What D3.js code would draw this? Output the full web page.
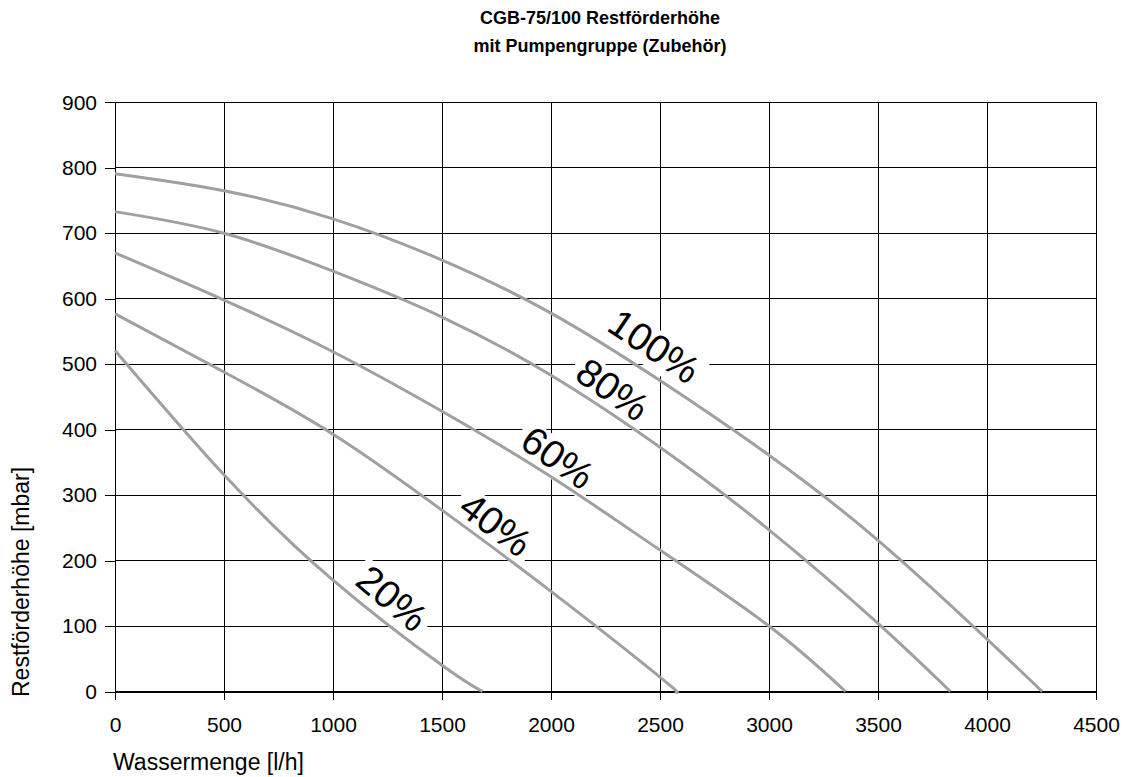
<!DOCTYPE html>
<html>
<head>
<meta charset="utf-8">
<script src="https://cdn.jsdelivr.net/npm/d3@7"></script>
<style>
  html, body { margin: 0; padding: 0; background: #fff; }
  svg { display: block; font-family: "Liberation Sans", Arial, sans-serif; }
</style>
</head>
<body>
<svg id="chart" width="1136" height="777"></svg>
<script>
// ---- Data ----
const titleLines = ["CGB-75/100 Restförderhöhe", "mit Pumpengruppe (Zubehör)"];
const xLabel = "Wassermenge [l/h]";
const yLabel = "Restförderhöhe [mbar]";
const xTicks = [0, 500, 1000, 1500, 2000, 2500, 3000, 3500, 4000, 4500];
const yTicks = [0, 100, 200, 300, 400, 500, 600, 700, 800, 900];

const seriesNames = ["100%", "80%", "60%", "40%", "20%"];
const flow100 = [0, 500, 1000, 1500, 2000, 2500, 3000, 3500, 4000, 4253];
const head100 = [791, 765, 722, 659, 578, 475, 361, 231, 80, 0];
const flow80 = [0, 500, 1000, 1500, 2000, 2500, 3000, 3500, 3832];
const head80 = [733, 700, 642, 572, 483, 373, 247, 104, 0];
const flow60 = [0, 500, 1000, 1500, 2000, 2500, 3000, 3351];
const head60 = [670, 598, 519, 428, 328, 216, 100, 0];
const flow40 = [0, 500, 1000, 1500, 2000, 2500, 2569];
const head40 = [577, 488, 393, 277, 153, 22, 0];
const flow20 = [0, 500, 1000, 1500, 1686];
const head20 = [521, 331, 170, 40, 0];

// label anchor (data coords) and rotation angle
const labelFlow  = [2475, 2284, 2032, 1748, 1273];
const labelHead  = [528, 462, 358, 256, 143];
const labelAngle = [34, 35, 35, 37, 40];

// ---- Build ----
const series = [
  {name: seriesNames[0], x: flow100, y: head100},
  {name: seriesNames[1], x: flow80,  y: head80},
  {name: seriesNames[2], x: flow60,  y: head60},
  {name: seriesNames[3], x: flow40,  y: head40},
  {name: seriesNames[4], x: flow20,  y: head20}
].map(s => ({name: s.name, pts: s.x.map((v, i) => [v, s.y[i]])}));

const svg = d3.select("#chart");
const plotLeft = 115, plotRight = 1096, plotTop = 102.3, plotBottom = 691.5;

const x = d3.scaleLinear().domain([0, 4500]).range([plotLeft, plotRight]);
const y = d3.scaleLinear().domain([0, 900]).range([plotBottom, plotTop]);

// Title
svg.append("g").selectAll("text").data(titleLines).join("text")
  .attr("x", 600).attr("y", (d, i) => 24 + i * 28)
  .attr("text-anchor", "middle")
  .attr("font-size", 18).attr("font-weight", "bold")
  .text(d => d);

// Grid
const grid = svg.append("g").attr("stroke", "#000").attr("stroke-width", 1).attr("shape-rendering", "crispEdges");
grid.selectAll(".vg").data(xTicks).join("line")
  .attr("x1", d => x(d)).attr("x2", d => x(d))
  .attr("y1", y(0)).attr("y2", y(900));
grid.selectAll(".hg").data(yTicks).join("line")
  .attr("x1", x(0)).attr("x2", x(4500))
  .attr("y1", d => y(d)).attr("y2", d => y(d));

// Axes
const xAxis = d3.axisBottom(x).tickValues(xTicks).tickSize(8).tickPadding(18).tickFormat(d3.format("d"));
const yAxis = d3.axisLeft(y).tickValues(yTicks).tickSize(10).tickPadding(8).tickFormat(d3.format("d"));

const gx = svg.append("g").attr("transform", `translate(0,${plotBottom})`).call(xAxis);
const gy = svg.append("g").attr("transform", `translate(${plotLeft},0)`).call(yAxis);
[gx, gy].forEach(g => {
  g.select(".domain").attr("stroke", "#000").attr("shape-rendering", "crispEdges");
  g.selectAll(".tick line").attr("stroke", "#000").attr("shape-rendering", "crispEdges");
  g.selectAll(".tick text").attr("font-size", 21).attr("fill", "#000")
    .attr("font-family", "Liberation Sans, Arial, sans-serif");
});

// Axis titles
svg.append("text")
  .attr("x", plotLeft - 2).attr("y", 770)
  .attr("font-size", 23).attr("fill", "#000")
  .text(xLabel);
svg.append("text")
  .attr("transform", `translate(29,697) rotate(-90)`)
  .attr("text-anchor", "start")
  .attr("font-size", 23).attr("fill", "#000")
  .text(yLabel);

// Label groups (white boxes first)
const labels = svg.append("g").selectAll("g").data(seriesNames).join("g")
  .attr("transform", (d, i) => `translate(${x(labelFlow[i])},${y(labelHead[i])}) rotate(${labelAngle[i]})`);
const rects = labels.append("rect").attr("fill", "#fff");

// Curves
const line = d3.line().x(d => x(d[0])).y(d => y(d[1])).curve(d3.curveNatural);
svg.append("g").selectAll("path").data(series).join("path")
  .attr("d", d => line(d.pts))
  .attr("fill", "none")
  .attr("stroke", "#a0a0a0")
  .attr("stroke-width", 3);

// Label text on top
const labelTexts = svg.append("g").selectAll("g").data(seriesNames).join("g")
  .attr("transform", (d, i) => `translate(${x(labelFlow[i])},${y(labelHead[i])}) rotate(${labelAngle[i]})`)
  .append("text")
  .attr("text-anchor", "middle")
  .attr("dy", "0.36em")
  .attr("font-size", 39)
  .attr("fill", "#000")
  .text(d => d);

labelTexts.each(function(d, i) {
  const bb = this.getBBox();
  d3.select(rects.nodes()[i])
    .attr("x", bb.x - 6).attr("y", bb.y + 5)
    .attr("width", bb.width + 12).attr("height", bb.height - 5);
});
</script>
</body>
</html>
